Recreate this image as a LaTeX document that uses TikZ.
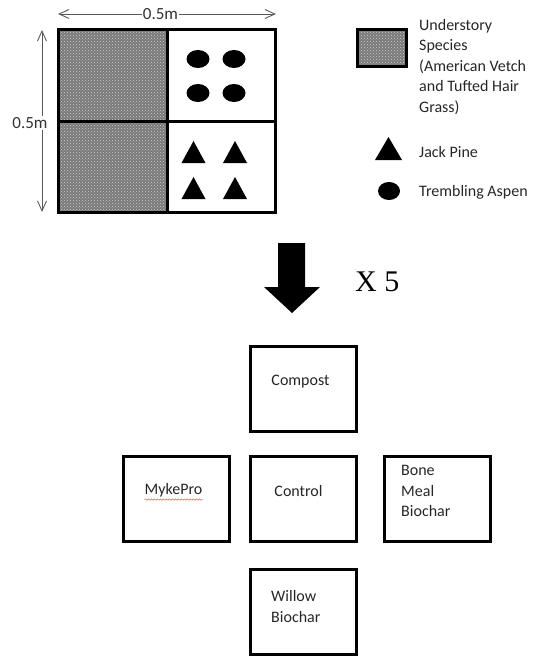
\documentclass[tikz,border=0pt]{standalone}
\usepackage{fontspec}
\setmainfont{Carlito}
\newfontfamily\timesfont{Liberation Serif}
\usepackage{tikz}
\usetikzlibrary{arrows.meta,patterns,decorations.pathmorphing,positioning}

\tikzset{
  understory/.style={preaction={fill=gray!95!black}, pattern=crosshatch dots, pattern color=gray!35},
  frame/.style={line width=3pt},
  dim/.style={draw=black!65, line width=0.9pt, {Straight Barb[length=10pt,width=9pt]}-{Straight Barb[length=10pt,width=9pt]}},
  dimlbl/.style={fill=white, inner sep=1pt, font=\fontsize{17}{20}\selectfont, text=black!80},
  lbl/.style={font=\fontsize{16}{20.5}\selectfont, inner sep=0pt, text=black!85},
  plotbox/.style={draw, line width=3pt, minimum width=106pt, minimum height=85pt, inner sep=0pt}
}

\begin{document}
\begin{tikzpicture}[x=1pt,y=-1pt]
  \useasboundingbox (0,0) rectangle (535,658);

  % quadrat
  \coordinate (qnw) at (58,30);
  \coordinate (qse) at (275,212);
  \fill[understory] (qnw) rectangle (167,212);
  \draw[frame] (qnw) rectangle (qse);
  \draw[frame] (167,30) -- (167,212);
  \draw[frame] (58,122) -- (275,122);

  \foreach \x in {198,234}
    \foreach \y in {59,93}
      \fill (\x,\y) ellipse [x radius=11.5pt, y radius=9pt];
  \foreach \x in {193.5,235}
    \foreach \y in {152,188}
      \fill (\x-12,\y+11) -- (\x,\y-11) -- (\x+12,\y+11) -- cycle;

  % dimensions
  \coordinate (wleft) at (58,14);
  \coordinate (wright) at (276,14);
  \coordinate (htop) at (42,30);
  \coordinate (hbot) at (42,212);
  \draw[dim] (wleft) -- node[dimlbl, pos=0.47] (wlbl) {0.5m} (wright);
  \draw[dim] (htop) -- (hbot);
  \node[dimlbl] (hlbl) at (30,123) {0.5m};

  % legend
  \fill[understory] (357,30) rectangle (406,67);
  \draw[frame] (357,30) rectangle (406,67);
  \node[lbl, anchor=north west, align=left] (keyund) at (419,19)
    {Understory\\Species\\(American Vetch\\and Tufted Hair\\Grass)};
  \fill (375,160) -- (388.5,137) -- (402,160) -- cycle;
  \node[lbl, anchor=west] (keyjack) at (419,152) {Jack Pine};
  \fill (389,191) ellipse [x radius=11pt, y radius=9pt];
  \node[lbl, anchor=west] (keyasp) at (419,192) {Trembling Aspen};

  % repeat arrow
  \fill (278,243) -- (305,243) -- (305,287) -- (320,287) -- (292,313)
    -- (264,287) -- (278,287) -- cycle;
  \node[anchor=west, inner sep=0pt, font=\timesfont\fontsize{30}{30}\selectfont] (times) at (355,282) {X 5};

  % treatments
  \node[plotbox] (compost) at (303.5,389) {};
  \node[plotbox] (control) at (303.5,498.5) {};
  \node[plotbox] (myke) at (176.5,498.5) {};
  \node[plotbox] (bone) at (437.5,498.5) {};
  \node[plotbox] (willow) at (303.5,611.5) {};

  \node[lbl] (compostlbl) at ([shift={(-3,-7)}]compost.center) {Compost};
  \node[lbl] (controllbl) at ([shift={(-5,-8)}]control.center) {Control};
  \node[lbl] (mykelbl) at ([shift={(-3,-8)}]myke.center) {MykePro};
  \draw[red!75, line width=0.5pt, decorate, decoration={snake, amplitude=0.7pt, segment length=3pt}]
    ([yshift=-2pt]mykelbl.south west) -- ([yshift=-2pt]mykelbl.south east);
  \node[lbl, anchor=north west, align=left] (bonelbl) at ([shift={(18,11)}]bone.north west) {Bone\\Meal\\Biochar};
  \node[lbl, anchor=north west, align=left] (willowlbl) at ([shift={(22,23)}]willow.north west) {Willow\\Biochar};
\end{tikzpicture}
\end{document}
